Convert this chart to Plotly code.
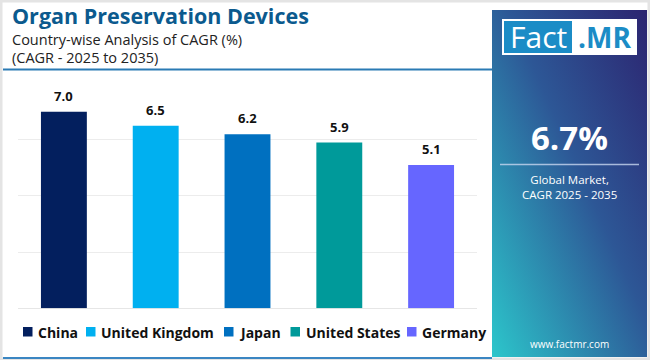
import base64
import plotly.graph_objects as go

# ---- data ----
countries = ["China", "United Kingdom", "Japan", "United States", "Germany"]
cagr = [7.0, 6.5, 6.2, 5.9, 5.1]
colors = ["#031f5e", "#00b0f0", "#0070c0", "#009a9a", "#6666ff"]
title = "Organ Preservation Devices"
subtitle1 = "Country-wise Analysis of CAGR (%)"
subtitle2 = "(CAGR - 2025 to 2035)"
global_cagr = "6.7%"
global_label = "Global Market,<br>CAGR 2025 - 2035"
website = "www.factmr.com"
legend_text_x = [37, 100, 238, 304.5, 421]   # legend label start positions (px)

W, H = 650, 360
FONT = "Open Sans"

def px(x):
    return x / W

def py(y):
    return 1 - y / H

fig = go.Figure()
annotations = []
for c, v, col in zip(countries, cagr, colors):
    fig.add_trace(go.Bar(
        x=[c], y=[v], name=c, marker=dict(color=col, line=dict(width=0)),
        width=0.5, hoverinfo="x+y", showlegend=False,
    ))
    annotations.append(dict(
        x=c, y=v, xref="x", yref="y", text=f"<b>{v:.1f}</b>", showarrow=False,
        yshift=16, font=dict(family=FONT, size=13, color="#111111"),
    ))

# gradient panel as svg image
svg = (
    '<svg xmlns="http://www.w3.org/2000/svg" width="155" height="347" viewBox="0 0 155 347" preserveAspectRatio="none">'
    '<defs><linearGradient id="g" x1="1" y1="0" x2="0" y2="1">'
    '<stop offset="0" stop-color="#2c2470"/>'
    '<stop offset="0.45" stop-color="#2d5796"/>'
    '<stop offset="1" stop-color="#2cc6cb"/>'
    '</linearGradient></defs>'
    '<rect width="155" height="347" fill="url(#g)"/></svg>'
)
uri = "data:image/svg+xml;base64," + base64.b64encode(svg.encode()).decode()

shapes = [
    # outer frame
    dict(type="rect", xref="paper", yref="paper", x0=px(1), x1=px(649), y0=py(359), y1=py(1),
         line=dict(color="#e4e4e4", width=3), fillcolor="rgba(0,0,0,0)", layer="below"),
    # header underline
    dict(type="line", xref="paper", yref="paper", x0=px(3), x1=px(492), y0=py(69.5), y1=py(69.5),
         line=dict(color="#2a7ab4", width=2)),
    # bottom line
    dict(type="line", xref="paper", yref="paper", x0=px(3), x1=px(492), y0=py(358), y1=py(358),
         line=dict(color="#3b86c2", width=2)),
    # logo white box
    dict(type="rect", xref="paper", yref="paper", x0=px(502), x1=px(637), y0=py(55), y1=py(19),
         line=dict(width=0), fillcolor="white"),
    # logo blue box
    dict(type="rect", xref="paper", yref="paper", x0=px(504), x1=px(572), y0=py(53), y1=py(21),
         line=dict(width=0), fillcolor="#1b8cc6"),
    # panel separator line
    dict(type="line", xref="paper", yref="paper", x0=px(500), x1=px(639), y0=py(164.5), y1=py(164.5),
         line=dict(color="rgba(200,215,240,0.8)", width=1.5)),
]

# custom legend (squares + labels)
for name, col, tx in zip(countries, colors, legend_text_x):
    shapes.append(dict(type="rect", xref="paper", yref="paper",
                       x0=px(tx - 14), x1=px(tx - 4.5), y0=py(336.5), y1=py(327),
                       line=dict(width=0), fillcolor=col))
    annotations.append(dict(text=f"<b>{name}</b>", x=px(tx - 1), y=py(332), xanchor="left",
                            yanchor="middle", xref="paper", yref="paper", showarrow=False,
                            font=dict(family=FONT, size=14, color="#111111")))

extra = [
    dict(text=f"<b>{title}</b>", x=px(10), y=py(15.5), xanchor="left", yanchor="middle",
         font=dict(family=FONT, size=21.5, color="#0b5a8e")),
    dict(text=subtitle1, x=px(10), y=py(39), xanchor="left", yanchor="middle",
         font=dict(family=FONT, size=14.5, color="#222222")),
    dict(text=subtitle2, x=px(10), y=py(58), xanchor="left", yanchor="middle",
         font=dict(family=FONT, size=14.5, color="#222222")),
    dict(text="Fact", x=px(538), y=py(37), xanchor="center", yanchor="middle",
         font=dict(family=FONT, size=30, color="white")),
    dict(text="<b>.MR</b>", x=px(604), y=py(37), xanchor="center", yanchor="middle",
         font=dict(family=FONT, size=28, color="#1b8cc6")),
    dict(text=f"<b>{global_cagr}</b>", x=px(569), y=py(137), xanchor="center", yanchor="middle",
         font=dict(family=FONT, size=33, color="white")),
    dict(text=global_label, x=px(569), y=py(187), xanchor="center", yanchor="middle",
         font=dict(family=FONT, size=11.5, color="white")),
    dict(text=website, x=px(569), y=py(344), xanchor="center", yanchor="middle",
         font=dict(family=FONT, size=10, color="white")),
]
for a in extra:
    a.update(xref="paper", yref="paper", showarrow=False)
annotations.extend(extra)

fig.update_layout(
    width=W, height=H,
    margin=dict(l=0, r=0, t=0, b=0),
    paper_bgcolor="white", plot_bgcolor="white",
    barmode="overlay",
    showlegend=False,
    xaxis=dict(domain=[px(18), px(477)], showticklabels=False, showgrid=False,
               zeroline=False, showline=False, ticks=""),
    yaxis=dict(domain=[py(308.3), py(83.6)], range=[0, 8], dtick=2, showticklabels=False,
               showgrid=True, gridcolor="#ececec", gridwidth=1, zeroline=True,
               zerolinecolor="#e6e6e6", zerolinewidth=1, showline=False, ticks=""),
    shapes=shapes,
    annotations=annotations,
    images=[dict(source=uri, xref="paper", yref="paper", x=px(492), y=py(10),
                 sizex=px(155), sizey=347 / H, xanchor="left", yanchor="top",
                 sizing="stretch", layer="below")],
    font=dict(family=FONT),
)

fig.write_html("out.html", config={"displayModeBar": False},
               post_script="document.body.style.margin='0';")
